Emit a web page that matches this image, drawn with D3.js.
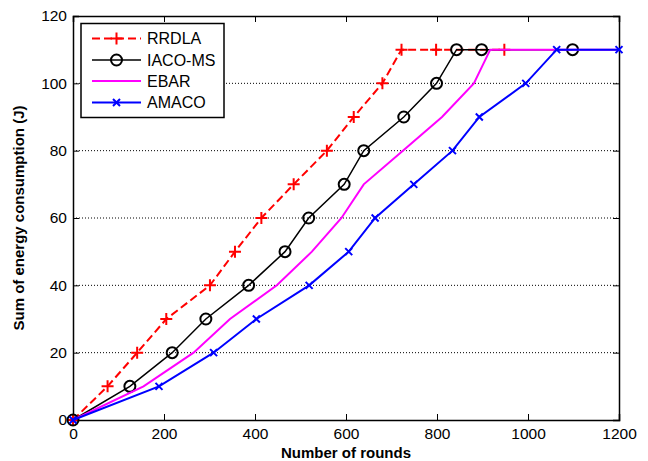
<!DOCTYPE html>
<html><head><meta charset="utf-8">
<script src="https://cdn.jsdelivr.net/npm/d3@7"></script>
<style>body{margin:0;background:#fff}svg{display:block}text{font-family:"Liberation Sans",Arial,sans-serif}</style>
</head><body><div id="c"></div>
<script>
const xTicks = [0,200,400,600,800,1000,1200];
const yTicks = [0,20,40,60,80,100,120];
const seriesNames = ["RRDLA","IACO-MS","EBAR","AMACO"];
const rrdlaX = [0,76,141,205,301,356,414,485,558,617,680,722,798,948];
const rrdlaY = [0,10,20,30,40,50,60,70,80,90,100,110,110,110];
const iacoX = [0,125,218,292,386,466,518,596,639,727,799,843,898,1098];
const iacoY = [0,10,20,30,40,50,60,70,80,90,100,110,110,110];
const ebarX = [0,155,265,345,448,525,590,639,725,811,881,917,1200];
const ebarY = [0,10,20,30,40,50,60,70,80,90,100,110,110];
const amacoX = [0,189,309,403,519,606,664,749,834,893,995,1063,1200];
const amacoY = [0,10,20,30,40,50,60,70,80,90,100,110,110];

const W=648,H=461, L=73, R=619, T=16, B=420;
const svg=d3.select("#c").append("svg").attr("width",W).attr("height",H);
const x=d3.scaleLinear().domain([0,1200]).range([L,R]);
const y=d3.scaleLinear().domain([0,120]).range([B,T]);
const fmt=d3.format("d");

// grid
svg.append("g").selectAll("line").data(yTicks.filter(v=>v>0&&v<120)).join("line")
 .attr("x1",L).attr("x2",R).attr("y1",d=>y(d)).attr("y2",d=>y(d))
 .attr("stroke","#000").attr("stroke-width",1).attr("stroke-dasharray","1,2");

// axes (MATLAB-style inner ticks)
const fs=15.5;
const ax=[
 {g:d3.axisBottom(x).tickValues(xTicks).tickFormat(fmt).tickSize(-6).tickPadding(8), t:`translate(0,${B})`, lab:true},
 {g:d3.axisTop(x).tickValues(xTicks).tickSize(-6), t:`translate(0,${T})`, lab:false},
 {g:d3.axisLeft(y).tickValues(yTicks).tickFormat(fmt).tickSize(-6).tickPadding(6), t:`translate(${L},0)`, lab:true},
 {g:d3.axisRight(y).tickValues(yTicks).tickSize(-6), t:`translate(${R},0)`, lab:false}
];
ax.forEach(a=>{
 const g=svg.append("g").attr("transform",a.t).call(a.g);
 g.select(".domain").attr("stroke","#000").attr("stroke-width",1.5);
 g.selectAll(".tick line").attr("stroke","#000").attr("stroke-width",1);
 g.selectAll("text").attr("font-size",fs).attr("fill","#000").style("font-family","Liberation Sans, Arial, sans-serif");
 if(!a.lab) g.selectAll("text").remove();
});

// labels
svg.append("text").attr("x",(L+R)/2).attr("y",458).attr("text-anchor","middle")
 .attr("font-size",15).attr("font-weight","bold").text("Number of rounds");
svg.append("text").attr("transform",`translate(24,${(T+B)/2}) rotate(-90)`).attr("text-anchor","middle")
 .attr("font-size",15).attr("font-weight","bold").text("Sum of energy consumption (J)");

const series=[
 {xs:rrdlaX, ys:rrdlaY, color:"#ff0000", w:2, dash:"8,4", marker:"plus"},
 {xs:iacoX, ys:iacoY, color:"#000000", w:1.5, dash:null, marker:"circle"},
 {xs:ebarX, ys:ebarY, color:"#ff00ff", w:2, dash:null, marker:null},
 {xs:amacoX, ys:amacoY, color:"#0000ff", w:2, dash:null, marker:"x"}
];
const line=d3.line().x(d=>x(d[0])).y(d=>y(d[1]));
function drawMarker(g,type,cx,cy,color){
 if(type==="plus"){
  g.append("path").attr("d",`M${cx-6},${cy}H${cx+6}M${cx},${cy-6}V${cy+6}`).attr("stroke",color).attr("stroke-width",2).attr("fill","none");
 } else if(type==="circle"){
  g.append("circle").attr("cx",cx).attr("cy",cy).attr("r",5.5).attr("stroke",color).attr("stroke-width",2).attr("fill","none");
 } else if(type==="x"){
  g.append("path").attr("d",`M${cx-3.5},${cy-3.5}L${cx+3.5},${cy+3.5}M${cx-3.5},${cy+3.5}L${cx+3.5},${cy-3.5}`).attr("stroke",color).attr("stroke-width",2).attr("fill","none");
 }
}
series.forEach(s=>{
 const g=svg.append("g");
 const pts=s.xs.map((v,i)=>[v,s.ys[i]]);
 g.append("path").attr("d",line(pts)).attr("fill","none").attr("stroke",s.color)
  .attr("stroke-width",s.w).attr("stroke-dasharray",s.dash);
 if(s.marker) pts.forEach(p=>drawMarker(g,s.marker,x(p[0]),y(p[1]),s.color));
});

// legend
const lg=svg.append("g");
lg.append("rect").attr("x",81).attr("y",23.5).attr("width",143).attr("height",94)
 .attr("fill","#fff").attr("stroke","#000").attr("stroke-width",1.5);
const ly=[38.5,60,81,102.5];
series.forEach((s,i)=>{
 lg.append("line").attr("x1",92).attr("x2",141).attr("y1",ly[i]).attr("y2",ly[i])
  .attr("stroke",s.color).attr("stroke-width",s.w).attr("stroke-dasharray",s.dash);
 if(s.marker) drawMarker(lg,s.marker,116.5,ly[i],s.color);
 lg.append("text").attr("x",147).attr("y",ly[i]+5.5).attr("font-size",16).text(seriesNames[i]);
});
</script></body></html>
